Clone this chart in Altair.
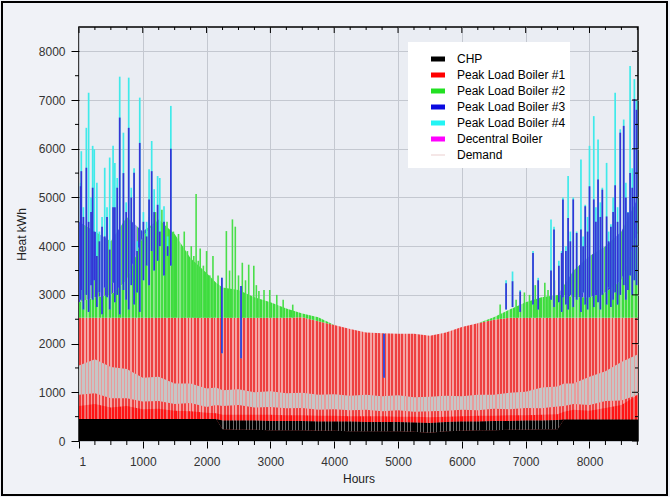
import altair as alt
import pandas as pd

FONT = "Liberation Sans"

# ---- hourly heat supply envelopes (kWh), read at knot hours ----
HOURS = [1, 250, 500, 750, 1000, 1250, 1500, 1750, 2000, 2150, 2250, 2500, 2750, 3000,
         3250, 3500, 3750, 4000, 4250, 4500, 4750, 5000, 5250, 5500, 5750, 6000, 6250,
         6500, 6750, 7000, 7250, 7500, 7600, 7750, 8000, 8250, 8500, 8760]
CHP_TOP = [450, 450, 450, 450, 450, 450, 450, 450, 450, 450,
           240, 230, 230, 220, 220, 220, 210, 210, 200, 200, 200, 200, 190, 170, 200, 210,
           220, 220, 230, 230, 240, 240,
           440, 440, 440, 440, 440, 440]
CHP_FUZZ = [450, 450, 450, 450, 450, 450, 450, 450, 450, 450,
            420, 420, 420, 410, 410, 410, 400, 400, 400, 390, 390, 390, 380, 370, 390, 400,
            400, 410, 410, 420, 420, 430,
            440, 440, 440, 440, 440, 440]
RED_SOLID = [720, 760, 690, 720, 650, 660, 620, 610, 580, 570,
             540, 540, 540, 540, 530, 530, 520, 520, 510, 510, 510, 500, 500, 490, 500, 510,
             520, 520, 530, 530, 540, 550,
             600, 640, 620, 680, 740, 950]
DEMAND_LO = [950, 980, 880, 880, 810, 820, 760, 780, 700, 740,
             720, 740, 690, 700, 670, 680, 640, 650, 630, 640, 610, 630, 600, 610, 620, 640,
             630, 660, 650, 680, 670, 710,
             720, 760, 740, 820, 830, 950]
DEMAND_HI = [1550, 1680, 1520, 1480, 1300, 1320, 1180, 1180, 1080, 1100,
             1040, 1060, 1000, 1020, 980, 990, 950, 960, 930, 950, 920, 940, 900, 910, 930, 920,
             950, 950, 990, 1010, 1100, 1120,
             1180, 1180, 1320, 1430, 1620, 1780]
PLB1_TOP = [2530, 2530, 2530, 2530, 2530, 2530, 2530, 2530, 2530, 2530,
            2530, 2530, 2530, 2530, 2530, 2540, 2460, 2380, 2300, 2230, 2210, 2200, 2200, 2160, 2230, 2340,
            2420, 2490, 2530, 2530, 2530, 2530,
            2530, 2530, 2530, 2530, 2530, 2530]
PLB2_TOP = [2850, 2950, 3000, 3300, 4200, 4550, 4250, 3750, 3450, 3250,
            3150, 3100, 2950, 2850, 2720, 2620, 2540, 2380, 2300, 2230, 2210, 2200, 2200, 2160, 2230, 2340,
            2420, 2540, 2700, 2850, 2950, 3000,
            3000, 2950, 2950, 3050, 3300, 4300]
PLB3_TOP = [4500, 4300, 4100, 4600, 4300, 4550, 4250, 3750, 3450, 3250,
            3150, 3100, 2950, 2850, 2720, 2620, 2540, 2380, 2300, 2230, 2210, 2200, 2200, 2160, 2230, 2340,
            2420, 2540, 2700, 2850, 2950, 3000,
            3200, 3500, 3800, 4000, 4300, 5000]

# ---- individual peak hours for boilers #3 / #4 ----
PEAK_HOURS = [27, 37, 70, 116, 152, 190, 215, 240, 281, 320, 362, 404, 440, 482, 535, 563, 600,
              639, 697, 740, 780, 820, 864, 911, 953, 1010, 1060, 1099, 1140, 1179, 1233, 1267,
              1333, 1390, 1440,
              2240, 2540, 4780,
              6693, 6794, 6914, 7115, 7196, 7397, 7444, 7520, 7564, 7584, 7630, 7665, 7700, 7745,
              7799, 7866, 7900, 7933, 7970, 8000, 8067, 8100, 8134, 8170, 8201, 8268, 8300, 8335,
              8370, 8402, 8440, 8482, 8536, 8570, 8603, 8636, 8670, 8703, 8737]
PEAK_BASE = [2900, 3100, 2700, 3000, 2650, 3200, 2900, 3300, 2750, 3050, 2600, 3150, 2950, 2700,
             3250, 2850, 3000, 2600, 3100, 2900, 2700, 3200, 2800, 3050, 2650, 3300, 3600, 3200,
             3900, 3500, 3700, 4000, 3400, 3800, 3600,
             1800, 1700, 1300,
             2700, 2750, 2650, 2800, 2700, 2900, 2750, 2850, 2650, 2950, 2800, 2700, 3000, 2750,
             2900, 2650, 3050, 2800, 2700, 2950, 2750, 3100, 2850, 2700, 3000, 2800, 3150, 2750,
             2900, 3050, 2800, 3000, 3200, 2900, 3100, 3400, 3000, 3300, 3200]
PEAK_PLB3 = [5230, 5540, 4600, 5610, 4500, 4700, 5200, 4300, 3800, 4100, 4400, 4200, 4600, 3930,
             4800, 4800, 5200, 6640, 5500, 4700, 6430, 5000, 5510, 3900, 6120, 4500, 4200, 4960,
             5540, 4700, 4850, 4300, 4500, 4000, 6000,
             3350, 3180, 2200,
             3240, 3280, 3070, 3860, 3300, 3500, 4340, 3600, 3860, 4960, 3900, 4580, 4100, 4960,
             4270, 4340, 4000, 4820, 4300, 5230, 4960, 4500, 5370, 4600, 5160, 4610, 4100, 4400,
             4700, 5250, 4500, 6330, 6470, 5000, 4690, 5500, 5200, 7020, 6800]
PEAK_PLB4 = [5300, 5950, 4800, 6430, 7150, 5000, 6060, 5990, 5300, 4300, 4600, 5610, 4800, 5820,
             6060, 5710, 5400, 7480, 6330, 4900, 7460, 5200, 5600, 4100, 7050, 4700, 4500, 5580,
             6160, 5170, 5440, 5400, 4820, 4200, 6880,
             3350, 3180, 2200,
             3300, 3480, 3100, 3900, 3350, 4550, 4400, 3700, 3900, 5000, 4000, 5440, 4300, 5000,
             4300, 5780, 4200, 4850, 4600, 6060, 6670, 4800, 6190, 4900, 5200, 5710, 4300, 4450,
             5000, 7150, 4800, 6400, 6600, 5300, 4700, 7700, 5600, 7430, 7000]

# ---- individual peak hours for boiler #2 ----
PLB2_PEAK_HOURS = [1100, 1200, 1300, 1380, 1480, 1560, 1610, 1650, 1700, 1760, 1800, 1836,
                   1870, 1900, 1950, 2000, 2050, 2100, 2180, 2310, 2360, 2405, 2450, 2500,
                   2560, 2610, 2660, 2740, 2780, 2820, 2900, 2990, 3100, 3200, 3350,
                   6600, 6850, 6980, 7060, 7150, 7300, 7350, 7450]
PLB2_PEAK_TOP = [4600, 4700, 4750, 4500, 4300, 4250, 4000, 4300, 3900, 4000, 3800, 5070,
                 3700, 3950, 3600, 3900, 3400, 3800, 3400, 4310, 3500, 4550, 4400, 3400,
                 3660, 3300, 3620, 3600, 3200, 3080, 3100, 3100, 3000, 2900, 2800,
                 2800, 2900, 3050, 3000, 3200, 3250, 3100, 3300]

SERIES = ["CHP", "Peak Load Boiler #1", "Peak Load Boiler #2", "Peak Load Boiler #3",
          "Peak Load Boiler #4", "Decentral Boiler", "Demand"]
SERIES_COLORS = ["#000000", "#ff0000", "#22e022", "#0a0ae0", "#22f4f4", "#ff00ff", "#dcb0b0"]
RECT = "M-1.4,-0.5H1.4V0.5H-1.4Z"
THIN = "M-1.4,-0.06H1.4V0.06H-1.4Z"
SERIES_SHAPES = [RECT, RECT, RECT, RECT, RECT, RECT, THIN]

X_MAJOR = [1, 1000, 2000, 3000, 4000, 5000, 6000, 7000, 8000]
X_MINOR = [h for h in range(250, 8760, 250) if h % 1000 != 0]
Y_MAJOR = [0, 1000, 2000, 3000, 4000, 5000, 6000, 7000, 8000]
Y_MINOR = [500, 1500, 2500, 3500, 4500, 5500, 6500, 7500]

W, H = 559, 414

band = pd.DataFrame({
    "hour": HOURS, "chp": CHP_TOP, "fuzz": CHP_FUZZ, "solid": RED_SOLID,
    "dlo": DEMAND_LO, "dhi": DEMAND_HI, "plb1": PLB1_TOP, "plb2": PLB2_TOP, "plb3": PLB3_TOP,
})
peaks = pd.DataFrame({"hour": PEAK_HOURS, "base": PEAK_BASE, "plb3": PEAK_PLB3, "plb4": PEAK_PLB4})
peaks2 = pd.DataFrame({"hour": PLB2_PEAK_HOURS, "base": [2530] * len(PLB2_PEAK_HOURS),
                       "top": PLB2_PEAK_TOP})

# irregular hourly striping of the stacked bands
JITTER = [0.0, 0.16, -0.1, 0.22, -0.18, 0.06, -0.04, 0.12, -0.15, 0.02, 0.19, -0.12, 0.08]


def stripes(pattern, n=170):
    stops = []
    for i in range(n):
        fr = [f for _, f in pattern]
        fr[0] = fr[0] + JITTER[i % len(JITTER)]
        tot = sum(fr)
        pos = i / n
        for (c, _), f in zip(pattern, fr):
            nxt = min(pos + f / tot / n, 1.0)
            stops.append(alt.GradientStop(color=c, offset=round(pos, 6)))
            stops.append(alt.GradientStop(color=c, offset=round(nxt, 6)))
            pos = nxt
    return alt.LinearGradient(gradient="linear", stops=stops, x1=0, x2=1, y1=0, y2=0)


x_scale = alt.Scale(domain=[1, 8760], nice=False, zero=False)
y_scale = alt.Scale(domain=[0, 8500], nice=False, zero=False)

x_axis = alt.Axis(title="Hours", values=X_MAJOR, format="d", tickSize=7, tickColor="black",
                  labelPadding=8, labelFont=FONT, labelFontSize=12, labelColor="#333333",
                  titleFont=FONT, titleFontSize=12, titleFontWeight="normal", titleColor="#222222",
                  titlePadding=6, grid=True, gridColor="#c4c8d0", gridWidth=1, domain=False)
y_axis = alt.Axis(title="Heat kWh", values=Y_MAJOR, format="d", tickSize=8, tickColor="black",
                  labelPadding=6, labelFont=FONT, labelFontSize=12, labelColor="#333333",
                  titleFont=FONT, titleFontSize=12, titleFontWeight="normal", titleColor="#222222",
                  titlePadding=10, grid=True, gridColor="#c4c8d0", gridWidth=1, domain=False)


def X(field="hour"):
    return alt.X(f"{field}:Q", scale=x_scale, axis=x_axis)


def Y(field):
    return alt.Y(f"{field}:Q", scale=y_scale, axis=y_axis, stack=None)


base = alt.Chart(band)

plb1 = base.mark_area(color=stripes([("#ee4040", 0.55), ("#f4a4a4", 0.45)])).encode(
    x=X(), y=Y("plb1"))
plb2 = base.mark_area(color=stripes([("#3ddc3d", 0.6), ("#94e894", 0.4)])).encode(
    x=X(), y=Y("plb1"), y2="plb2:Q")
plb3 = base.mark_area(color=stripes([("#3c3cdc", 0.3), ("#9696e9", 0.3), ("#60d860", 0.4)])).encode(
    x=X(), y=Y("plb2"), y2="plb3:Q")

plb2_peaks = alt.Chart(peaks2).mark_rule(color="#4ade4a", strokeWidth=1.6).encode(
    x=X(), y=Y("base"), y2="top:Q")
plb4_peaks = alt.Chart(peaks).mark_rule(color="#40eaea", strokeWidth=1.7).encode(
    x=X(), y=Y("base"), y2="plb4:Q")
plb3_peaks = alt.Chart(peaks).mark_rule(color="#3434d6", strokeWidth=1.7).encode(
    x=X(), y=Y("base"), y2="plb3:Q")

demand = base.mark_area(color=stripes([("#c6c6c6", 0.65), ("#e89c9c", 0.35)])).encode(
    x=X(), y=Y("dlo"), y2="dhi:Q")
solid = base.mark_area(color=stripes([("#ff1414", 0.6), ("#f26c6c", 0.4)])).encode(
    x=X(), y=Y("fuzz"), y2="solid:Q")
fuzz = base.mark_area(color=stripes([("#000000", 0.7), ("#6a6a6a", 0.3)])).encode(
    x=X(), y=Y("chp"), y2="fuzz:Q")
chp = base.mark_area(color="#000000").encode(x=X(), y=Y("chp"))

# mirrored / minor tick marks on the frame
xmaj = alt.Chart(pd.DataFrame({"hour": X_MAJOR}))
xmin = alt.Chart(pd.DataFrame({"hour": X_MINOR}))
ymaj = alt.Chart(pd.DataFrame({"kwh": Y_MAJOR}))
ymin = alt.Chart(pd.DataFrame({"kwh": Y_MINOR}))
tick = dict(color="black", strokeWidth=1)
ticks = [
    xmaj.mark_rule(**tick).encode(x=X(), y=alt.value(0), y2=alt.value(6)),
    xmin.mark_rule(**tick).encode(x=X(), y=alt.value(0), y2=alt.value(3)),
    xmin.mark_rule(**tick).encode(x=X(), y=alt.value(H), y2=alt.value(H + 4)),
    ymaj.mark_rule(**tick).encode(y=Y("kwh"), x=alt.value(W - 6), x2=alt.value(W)),
    ymin.mark_rule(**tick).encode(y=Y("kwh"), x=alt.value(W - 3), x2=alt.value(W)),
    ymin.mark_rule(**tick).encode(y=Y("kwh"), x=alt.value(-4), x2=alt.value(0)),
]

one = alt.Chart(pd.DataFrame({"k": [0]}))
legend_box = one.mark_rect(color="white").encode(
    x=alt.value(329), x2=alt.value(491), y=alt.value(15), y2=alt.value(141))

leg = alt.Legend(title=None, orient="none", legendX=353, legendY=26, symbolSize=100,
                 symbolStrokeWidth=0, symbolOpacity=1, labelFont=FONT, labelFontSize=12,
                 labelColor="black", rowPadding=4, labelOffset=13, padding=0, labelLimit=300)
legend_layer = alt.Chart(pd.DataFrame({"series": SERIES})).mark_point(filled=True).encode(
    x=alt.value(0), y=alt.value(0), opacity=alt.value(0),
    color=alt.Color("series:N", scale=alt.Scale(domain=SERIES, range=SERIES_COLORS), legend=leg),
    shape=alt.Shape("series:N", scale=alt.Scale(domain=SERIES, range=SERIES_SHAPES), legend=leg),
)

frame = one.mark_rect(filled=False, color="black", strokeWidth=2).encode(
    x=alt.value(-77), x2=alt.value(588), y=alt.value(-25), y2=alt.value(468))

chart = alt.layer(
    plb1, plb2, plb3, plb2_peaks, plb4_peaks, plb3_peaks, demand, solid, fuzz, chp,
    *ticks, legend_box, legend_layer, frame,
).properties(
    width=W, height=H,
    padding={"left": 79, "top": 27, "right": 32, "bottom": 56},
    autosize=alt.AutoSizeParams(type="none"),
).configure(
    background="#f0f2f7",
).configure_view(
    fill="#eaedf3", stroke="black", strokeWidth=1.5,
)

chart.save("out.html", embed_options={"renderer": "svg", "actions": False})
